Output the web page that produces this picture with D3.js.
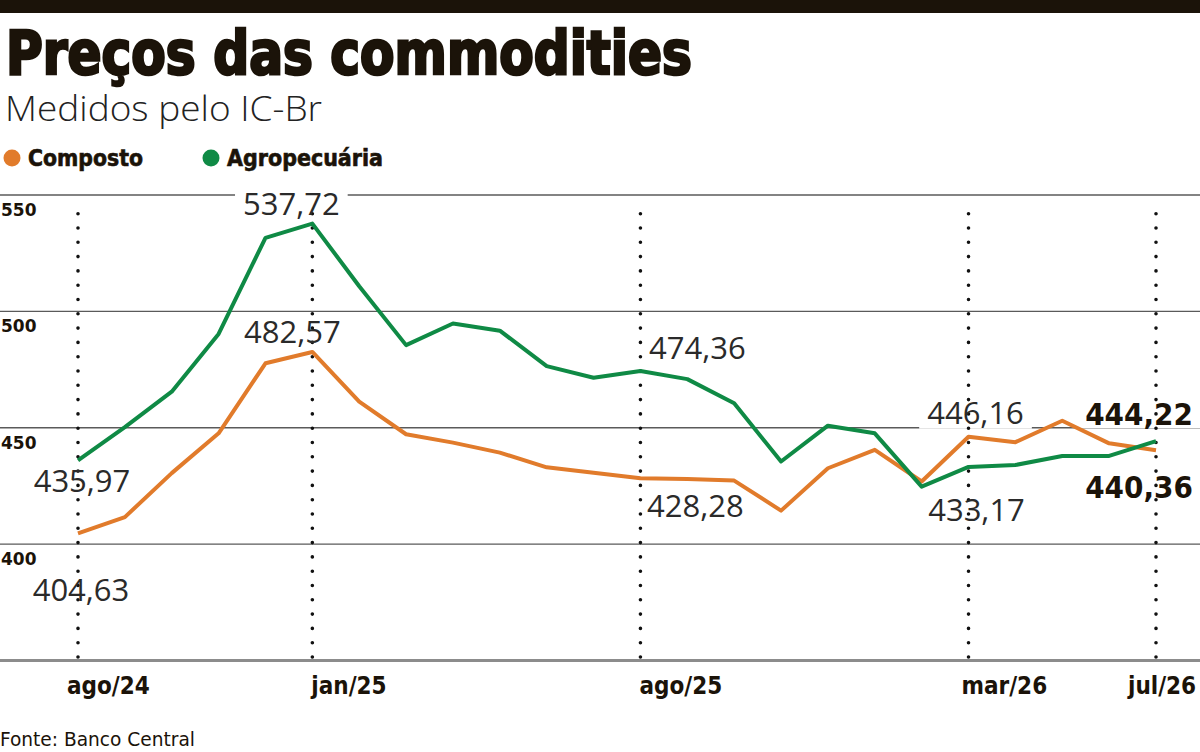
<!DOCTYPE html>
<html>
<head>
<meta charset="utf-8">
<script src="https://cdn.jsdelivr.net/npm/d3@7"></script>
<style>
  html, body { margin: 0; padding: 0; background: #fff; }
  svg { display: block; }
</style>
</head>
<body>
<div id="chart"></div>
<script>
// ---- Data ----
const months = [
  'ago/24', 'set/24', 'out/24', 'nov/24', 'dez/24', 'jan/25',
  'fev/25', 'mar/25', 'abr/25', 'mai/25', 'jun/25', 'jul/25',
  'ago/25', 'set/25', 'out/25', 'nov/25', 'dez/25', 'jan/26',
  'fev/26', 'mar/26', 'abr/26', 'mai/26', 'jun/26', 'jul/26'
];
const composto = [
  404.63, 411.6, 430.5, 447.6, 477.7, 482.57,
  461.2, 447.2, 443.6, 439.3, 433.0, 430.7,
  428.28, 428.0, 427.3, 414.4, 432.6, 440.5,
  426.9, 446.16, 443.8, 453.0, 443.3, 440.36
];
const agro = [
  435.97, 450.3, 465.5, 490.3, 531.6, 537.72,
  510.8, 485.5, 494.8, 491.7, 476.5, 471.5,
  474.36, 470.9, 460.5, 435.5, 450.9, 447.6,
  424.7, 433.17, 434.0, 437.9, 437.9, 444.22
];
const yTicks = [400, 450, 500, 550];
const xTickMonths = ['ago/24', 'jan/25', 'ago/25', 'mar/26', 'jul/26'];

const series = [
  { key: 'composto', name: 'Composto', values: composto, color: '#e17b2b' },
  { key: 'agro', name: 'Agropecuária', values: agro, color: '#0f8a45' }
];

// annotated points: series, month index, bold flag
const notes = [
  { s: 'agro', i: 5, bold: false, dx: -21, dy: -9 },
  { s: 'composto', i: 5, bold: false, dx: -20, dy: -9 },
  { s: 'agro', i: 0, bold: false, dx: 4, dy: 32 },
  { s: 'composto', i: 0, bold: false, dx: 3, dy: 68 },
  { s: 'agro', i: 12, bold: false, dx: 57, dy: -12 },
  { s: 'composto', i: 12, bold: false, dx: 55, dy: 39 },
  { s: 'composto', i: 19, bold: false, dx: 7, dy: -13 },
  { s: 'agro', i: 19, bold: false, dx: 8, dy: 54 },
  { s: 'agro', i: 23, bold: true, dx: -17, dy: -16 },
  { s: 'composto', i: 23, bold: true, dx: -17, dy: 48 }
];
// x label nudges (left edge relative to the dotted line)
const xLabelDx = { 'ago/24': -11, 'jan/25': -1, 'ago/25': -1, 'mar/26': -7, 'jul/26': -28 };

// ---- Layout ----
const W = 1200, H = 752;
const INK = '#1b1309';
const condensed = '"DejaVu Sans Condensed", "Liberation Sans Narrow", sans-serif';
const numFont = '"Open Sans", "Noto Sans", sans-serif';

const x = d3.scalePoint().domain(months).range([78, 1156]);
const y = d3.scaleLinear().domain([350, 550]).range([660.5, 195]);
const fmt = v => d3.format('.2f')(v).replace('.', ',');

const svg = d3.select('#chart').append('svg')
  .attr('width', W).attr('height', H)
  .attr('viewBox', `0 0 ${W} ${H}`);

// top bar
svg.append('rect').attr('x', 0).attr('y', 0).attr('width', W).attr('height', 13).attr('fill', INK);

// title + subtitle
svg.append('text')
  .attr('x', 6).attr('y', 74)
  .attr('textLength', 686).attr('lengthAdjust', 'spacingAndGlyphs')
  .style('font-family', condensed).style('font-weight', 700).style('font-size', '60px')
  .attr('fill', INK).attr('stroke', INK).attr('stroke-width', 2.6).attr('paint-order', 'stroke')
  .text('Preços das commodities');

svg.append('text')
  .attr('x', 5).attr('y', 121)
  .attr('textLength', 317).attr('lengthAdjust', 'spacingAndGlyphs')
  .style('font-family', numFont).style('font-weight', 300).style('font-size', '35px')
  .attr('fill', '#222')
  .text('Medidos pelo IC-Br');

// legend
const legendX = [12, 211];
const lg = svg.append('g').selectAll('g').data(series).join('g')
  .attr('transform', (d, i) => `translate(${legendX[i]},158)`);
lg.append('circle').attr('r', 8.5).attr('fill', d => d.color);
lg.append('text')
  .attr('x', 16).attr('y', 8)
  .attr('textLength', (d, i) => i ? 156 : 115).attr('lengthAdjust', 'spacingAndGlyphs')
  .style('font-family', condensed).style('font-weight', 700).style('font-size', '23px')
  .attr('fill', INK).attr('stroke', INK).attr('stroke-width', 0.6)
  .text(d => d.name);

// grid
svg.append('g').selectAll('line').data(yTicks).join('line')
  .attr('x1', 0).attr('x2', W)
  .attr('y1', d => y(d)).attr('y2', d => y(d))
  .attr('stroke', '#5a5a5a').attr('stroke-width', 1.4);

svg.append('line')
  .attr('x1', 0).attr('x2', W).attr('y1', y(350)).attr('y2', y(350))
  .attr('stroke', '#8c8c8c').attr('stroke-width', 3);

svg.append('g').selectAll('text').data(yTicks).join('text')
  .attr('x', 1).attr('y', d => y(d) + 21)
  .style('font-family', '"DejaVu Sans", sans-serif').style('font-weight', 700).style('font-size', '17px')
  .attr('fill', INK)
  .text(d => d);

// label knockouts (white boxes behind the value labels)
const noteData = notes.map(n => {
  const s = series.find(d => d.key === n.s);
  const v = s.values[n.i];
  return { ...n, v, px: x(months[n.i]), py: y(v), text: fmt(v) };
});
const gBg = svg.append('g');
const gDots = svg.append('g');
const gLines = svg.append('g');
const gNotes = svg.append('g');

// dotted verticals
gDots.selectAll('line').data(xTickMonths).join('line')
  .attr('x1', d => x(d)).attr('x2', d => x(d))
  .attr('y1', 657).attr('y2', 200)
  .attr('stroke', '#111').attr('stroke-width', 3.6)
  .attr('stroke-linecap', 'round').attr('stroke-dasharray', '0 14.3');

// x labels
svg.append('g').selectAll('text').data(xTickMonths).join('text')
  .attr('x', d => x(d) + xLabelDx[d]).attr('y', 694)
  .style('font-family', condensed).style('font-weight', 700).style('font-size', '24px')
  .attr('fill', INK)
  .text(d => d);

// series lines
const line = d3.line().x((d, i) => x(months[i])).y(d => y(d));
gLines.selectAll('path').data(series).join('path')
  .attr('d', d => line(d.values))
  .attr('fill', 'none').attr('stroke', d => d.color)
  .attr('stroke-width', 4).attr('stroke-linejoin', 'round');

// value labels
const labels = gNotes.selectAll('text').data(noteData).join('text')
  .attr('x', d => d.px + d.dx).attr('y', d => d.py + d.dy)
  .attr('text-anchor', 'middle')
  .style('font-family', d => d.bold ? condensed : numFont)
  .style('font-weight', d => d.bold ? 700 : 400)
  .style('font-size', '31px')
  .attr('fill', d => d.bold ? INK : '#2a2a2a')
  .text(d => d.text);

labels.each(function (d) {
  const b = this.getBBox();
  gBg.append('rect')
    .attr('x', b.x - 8).attr('y', b.y + 4)
    .attr('width', b.width + 16).attr('height', b.height - 8)
    .attr('fill', '#fff');
});

// source
svg.append('text')
  .attr('x', 0).attr('y', 746)
  .attr('textLength', 195).attr('lengthAdjust', 'spacingAndGlyphs')
  .style('font-family', condensed).style('font-weight', 400).style('font-size', '20px')
  .attr('fill', INK)
  .text('Fonte: Banco Central');
</script>
</body>
</html>
